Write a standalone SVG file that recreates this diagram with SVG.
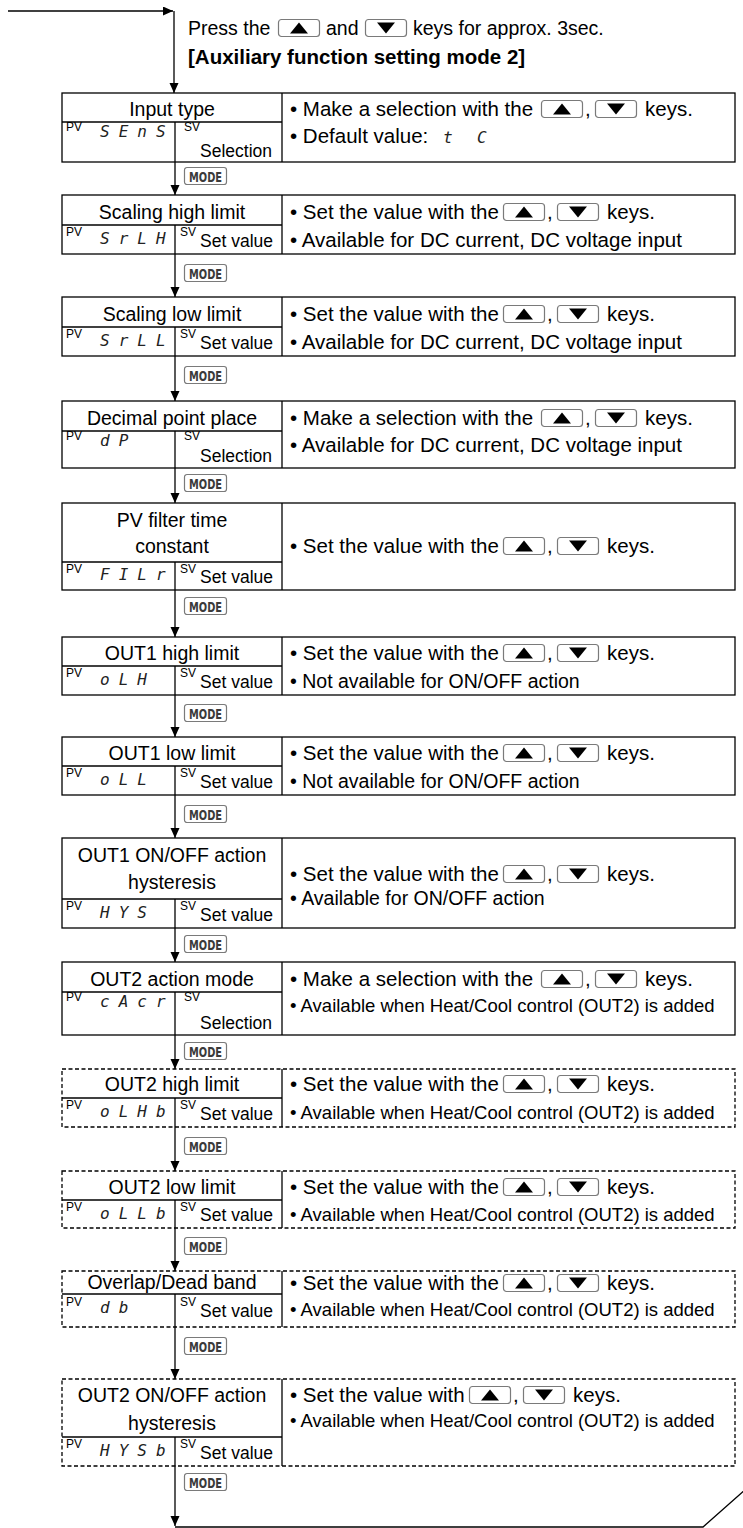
<svg xmlns="http://www.w3.org/2000/svg" width="743" height="1528" viewBox="0 0 743 1528">
<defs>
<style>
text{font-family:"Liberation Sans",Arial,sans-serif;fill:#000}
.t{font-size:19.5px;text-anchor:middle}
.p{font-size:19.5px}
.r{font-size:20.5px}
.rm{font-size:19.5px}
.rs{font-size:18.5px}
.h{font-size:20.5px;font-weight:bold}
.sup{font-size:12px}
.sv2{font-size:17.5px;text-anchor:end}
.seg{font-family:"DejaVu Sans Mono",monospace;font-style:italic;font-size:16px;letter-spacing:9px;fill:#222}
.ln{stroke:#000;stroke-width:1.3;fill:none}
.dl{stroke:#000;stroke-width:1.3;fill:none;stroke-dasharray:4 2.5}
.kb{fill:#fff;stroke:#7a7a7a;stroke-width:1.2}
.mk{font-family:"DejaVu Sans Condensed","DejaVu Sans",sans-serif;font-weight:bold;font-size:14px;fill:#3a3a3a;text-anchor:middle}
</style>
<marker id="ah" markerUnits="userSpaceOnUse" markerWidth="10" markerHeight="10" refX="10" refY="4.5" orient="auto"><path d="M0,0 L10,4.5 L0,9 z" fill="#000"/></marker>
<g id="kup"><rect class="kb" x="0.5" y="0.5" width="41" height="17" rx="3"/><path d="M21,3.5 L30,14.5 L12,14.5 z" fill="#000"/></g>
<g id="kdn"><rect class="kb" x="0.5" y="0.5" width="41" height="17" rx="3"/><path d="M12,3.5 L30,3.5 L21,14.5 z" fill="#000"/></g>
<rect id="kmode" class="kb" x="0.5" y="0.5" width="42" height="17" rx="2.5"/>
</defs>

<g id="header">
<text class="p" x="188" y="35">Press the</text>
<use href="#kup" x="278" y="19"/>
<text class="p" x="326" y="35">and</text>
<use href="#kdn" x="365" y="19"/>
<text class="p" x="413" y="35">keys for approx. 3sec.</text>
<text class="h" x="188" y="64">[Auxiliary function setting mode 2]</text>
</g>

<g id="connectors">
<line class="ln" x1="8" y1="11" x2="173" y2="11" marker-end="url(#ah)"/>
<line class="ln" x1="174" y1="11" x2="174" y2="93" marker-end="url(#ah)"/>
<line class="ln" x1="175" y1="162" x2="175" y2="195" marker-end="url(#ah)"/>
<line class="ln" x1="175" y1="254" x2="175" y2="297" marker-end="url(#ah)"/>
<line class="ln" x1="175" y1="356" x2="175" y2="401" marker-end="url(#ah)"/>
<line class="ln" x1="175" y1="468" x2="175" y2="503" marker-end="url(#ah)"/>
<line class="ln" x1="175" y1="590" x2="175" y2="637" marker-end="url(#ah)"/>
<line class="ln" x1="175" y1="695" x2="175" y2="737" marker-end="url(#ah)"/>
<line class="ln" x1="175" y1="795" x2="175" y2="838" marker-end="url(#ah)"/>
<line class="ln" x1="175" y1="928" x2="175" y2="962" marker-end="url(#ah)"/>
<line class="ln" x1="175" y1="1035" x2="175" y2="1069" marker-end="url(#ah)"/>
<line class="ln" x1="175" y1="1127" x2="175" y2="1171" marker-end="url(#ah)"/>
<line class="ln" x1="175" y1="1228" x2="175" y2="1271" marker-end="url(#ah)"/>
<line class="ln" x1="175" y1="1327" x2="175" y2="1379" marker-end="url(#ah)"/>
<line class="ln" x1="175" y1="1466" x2="175" y2="1526" marker-end="url(#ah)"/>
<polyline class="ln" points="175,1527 703,1527 746,1489"/>
<g id="mode-keys">
<use href="#kmode" x="184" y="167"/><text class="mk" x="205.5" y="181.5" textLength="33" lengthAdjust="spacingAndGlyphs">MODE</text>
<use href="#kmode" x="184" y="264"/><text class="mk" x="205.5" y="278.5" textLength="33" lengthAdjust="spacingAndGlyphs">MODE</text>
<use href="#kmode" x="184" y="366"/><text class="mk" x="205.5" y="380.5" textLength="33" lengthAdjust="spacingAndGlyphs">MODE</text>
<use href="#kmode" x="184" y="474"/><text class="mk" x="205.5" y="488.5" textLength="33" lengthAdjust="spacingAndGlyphs">MODE</text>
<use href="#kmode" x="184" y="597"/><text class="mk" x="205.5" y="611.5" textLength="33" lengthAdjust="spacingAndGlyphs">MODE</text>
<use href="#kmode" x="184" y="704"/><text class="mk" x="205.5" y="718.5" textLength="33" lengthAdjust="spacingAndGlyphs">MODE</text>
<use href="#kmode" x="184" y="805"/><text class="mk" x="205.5" y="819.5" textLength="33" lengthAdjust="spacingAndGlyphs">MODE</text>
<use href="#kmode" x="184" y="935"/><text class="mk" x="205.5" y="949.5" textLength="33" lengthAdjust="spacingAndGlyphs">MODE</text>
<use href="#kmode" x="184" y="1042"/><text class="mk" x="205.5" y="1056.5" textLength="33" lengthAdjust="spacingAndGlyphs">MODE</text>
<use href="#kmode" x="184" y="1137"/><text class="mk" x="205.5" y="1151.5" textLength="33" lengthAdjust="spacingAndGlyphs">MODE</text>
<use href="#kmode" x="184" y="1237"/><text class="mk" x="205.5" y="1251.5" textLength="33" lengthAdjust="spacingAndGlyphs">MODE</text>
<use href="#kmode" x="184" y="1337"/><text class="mk" x="205.5" y="1351.5" textLength="33" lengthAdjust="spacingAndGlyphs">MODE</text>
<use href="#kmode" x="184" y="1473"/><text class="mk" x="205.5" y="1487.5" textLength="33" lengthAdjust="spacingAndGlyphs">MODE</text>
</g>
</g>

<g id="n1-input-type">
<rect class="ln" x="62" y="93" width="673" height="69"/>
<line class="ln" x1="282" y1="93" x2="282" y2="162"/>
<line class="ln" x1="62" y1="122" x2="282" y2="122"/>
<line class="ln" x1="175" y1="122" x2="175" y2="162"/>
<text class="t" x="172" y="116">Input type</text>
<text class="sup" x="66" y="131">PV</text>
<text class="seg" x="100" y="137">SEnS</text>
<text class="sup" x="184" y="131">SV</text>
<text class="sv2" x="272" y="157">Selection</text>
<text class="r" x="290" y="116">• Make a selection with the</text>
<use href="#kup" x="541" y="100"/><text class="r" x="585" y="116">,</text><use href="#kdn" x="595" y="100"/>
<text class="r" x="645" y="116">keys.</text>
<text class="r" x="290" y="143">• Default value:</text>
<text class="seg" x="443" y="143">t</text>
<text class="seg" x="477" y="143">C</text>
</g>

<g id="n2-scaling-high">
<rect class="ln" x="62" y="195" width="673" height="59"/>
<line class="ln" x1="282" y1="195" x2="282" y2="254"/>
<line class="ln" x1="62" y1="225" x2="282" y2="225"/>
<line class="ln" x1="175" y1="225" x2="175" y2="254"/>
<text class="t" x="172" y="219">Scaling high limit</text>
<text class="sup" x="66" y="236">PV</text>
<text class="seg" x="100" y="244">SrLH</text>
<text class="sup" x="180" y="236">SV</text>
<text class="sv2" x="273" y="247">Set value</text>
<text class="r" x="290" y="219">• Set the value with the</text>
<use href="#kup" x="503" y="203"/><text class="r" x="547" y="219">,</text><use href="#kdn" x="557" y="203"/>
<text class="r" x="607" y="219">keys.</text>
<text class="r" x="290" y="247">• Available for DC current, DC voltage input</text>
</g>

<g id="n3-scaling-low">
<rect class="ln" x="62" y="297" width="673" height="59"/>
<line class="ln" x1="282" y1="297" x2="282" y2="356"/>
<line class="ln" x1="62" y1="327" x2="282" y2="327"/>
<line class="ln" x1="175" y1="327" x2="175" y2="356"/>
<text class="t" x="172" y="321">Scaling low limit</text>
<text class="sup" x="66" y="338">PV</text>
<text class="seg" x="100" y="346">SrLL</text>
<text class="sup" x="180" y="338">SV</text>
<text class="sv2" x="273" y="349">Set value</text>
<text class="r" x="290" y="321">• Set the value with the</text>
<use href="#kup" x="503" y="305"/><text class="r" x="547" y="321">,</text><use href="#kdn" x="557" y="305"/>
<text class="r" x="607" y="321">keys.</text>
<text class="r" x="290" y="349">• Available for DC current, DC voltage input</text>
</g>

<g id="n4-decimal-point">
<rect class="ln" x="62" y="401" width="673" height="67"/>
<line class="ln" x1="282" y1="401" x2="282" y2="468"/>
<line class="ln" x1="62" y1="431" x2="282" y2="431"/>
<line class="ln" x1="175" y1="431" x2="175" y2="468"/>
<text class="t" x="172" y="425">Decimal point place</text>
<text class="sup" x="66" y="440">PV</text>
<text class="seg" x="100" y="446">dP</text>
<text class="sup" x="184" y="440">SV</text>
<text class="sv2" x="272" y="462">Selection</text>
<text class="r" x="290" y="425">• Make a selection with the</text>
<use href="#kup" x="541" y="409"/><text class="r" x="585" y="425">,</text><use href="#kdn" x="595" y="409"/>
<text class="r" x="645" y="425">keys.</text>
<text class="r" x="290" y="452">• Available for DC current, DC voltage input</text>
</g>

<g id="n5-pv-filter">
<rect class="ln" x="62" y="503" width="673" height="87"/>
<line class="ln" x1="282" y1="503" x2="282" y2="590"/>
<line class="ln" x1="62" y1="562" x2="282" y2="562"/>
<line class="ln" x1="175" y1="562" x2="175" y2="590"/>
<text class="t" x="172" y="527">PV filter time</text>
<text class="t" x="172" y="553">constant</text>
<text class="sup" x="66" y="573">PV</text>
<text class="seg" x="100" y="580">FILr</text>
<text class="sup" x="180" y="573">SV</text>
<text class="sv2" x="273" y="583">Set value</text>
<text class="r" x="290" y="553">• Set the value with the</text>
<use href="#kup" x="503" y="537"/><text class="r" x="547" y="553">,</text><use href="#kdn" x="557" y="537"/>
<text class="r" x="607" y="553">keys.</text>
</g>

<g id="n6-out1-high">
<rect class="ln" x="62" y="637" width="673" height="58"/>
<line class="ln" x1="282" y1="637" x2="282" y2="695"/>
<line class="ln" x1="62" y1="666" x2="282" y2="666"/>
<line class="ln" x1="175" y1="666" x2="175" y2="695"/>
<text class="t" x="172" y="660">OUT1 high limit</text>
<text class="sup" x="66" y="677">PV</text>
<text class="seg" x="100" y="685">oLH</text>
<text class="sup" x="180" y="677">SV</text>
<text class="sv2" x="273" y="688">Set value</text>
<text class="r" x="290" y="660">• Set the value with the</text>
<use href="#kup" x="503" y="644"/><text class="r" x="547" y="660">,</text><use href="#kdn" x="557" y="644"/>
<text class="r" x="607" y="660">keys.</text>
<text class="rm" x="290" y="688">• Not available for ON/OFF action</text>
</g>

<g id="n7-out1-low">
<rect class="ln" x="62" y="737" width="673" height="58"/>
<line class="ln" x1="282" y1="737" x2="282" y2="795"/>
<line class="ln" x1="62" y1="766" x2="282" y2="766"/>
<line class="ln" x1="175" y1="766" x2="175" y2="795"/>
<text class="t" x="172" y="760">OUT1 low limit</text>
<text class="sup" x="66" y="777">PV</text>
<text class="seg" x="100" y="785">oLL</text>
<text class="sup" x="180" y="777">SV</text>
<text class="sv2" x="273" y="788">Set value</text>
<text class="r" x="290" y="760">• Set the value with the</text>
<use href="#kup" x="503" y="744"/><text class="r" x="547" y="760">,</text><use href="#kdn" x="557" y="744"/>
<text class="r" x="607" y="760">keys.</text>
<text class="rm" x="290" y="788">• Not available for ON/OFF action</text>
</g>

<g id="n8-out1-hysteresis">
<rect class="ln" x="62" y="838" width="673" height="90"/>
<line class="ln" x1="282" y1="838" x2="282" y2="928"/>
<line class="ln" x1="62" y1="899" x2="282" y2="899"/>
<line class="ln" x1="175" y1="899" x2="175" y2="928"/>
<text class="t" x="172" y="862">OUT1 ON/OFF action</text>
<text class="t" x="172" y="889">hysteresis</text>
<text class="sup" x="66" y="910">PV</text>
<text class="seg" x="100" y="918">HYS</text>
<text class="sup" x="180" y="910">SV</text>
<text class="sv2" x="273" y="921">Set value</text>
<text class="r" x="290" y="881">• Set the value with the</text>
<use href="#kup" x="503" y="865"/><text class="r" x="547" y="881">,</text><use href="#kdn" x="557" y="865"/>
<text class="r" x="607" y="881">keys.</text>
<text class="rm" x="290" y="905">• Available for ON/OFF action</text>
</g>

<g id="n9-out2-mode">
<rect class="ln" x="62" y="962" width="673" height="73"/>
<line class="ln" x1="282" y1="962" x2="282" y2="1035"/>
<line class="ln" x1="62" y1="992" x2="282" y2="992"/>
<line class="ln" x1="175" y1="992" x2="175" y2="1035"/>
<text class="t" x="172" y="986">OUT2 action mode</text>
<text class="sup" x="66" y="1001">PV</text>
<text class="seg" x="100" y="1007">cAcr</text>
<text class="sup" x="184" y="1001">SV</text>
<text class="sv2" x="272" y="1029">Selection</text>
<text class="r" x="290" y="986">• Make a selection with the</text>
<use href="#kup" x="541" y="970"/><text class="r" x="585" y="986">,</text><use href="#kdn" x="595" y="970"/>
<text class="r" x="645" y="986">keys.</text>
<text class="rs" x="290" y="1012">• Available when Heat/Cool control (OUT2) is added</text>
</g>

<g id="n10-out2-high">
<rect class="dl" x="62" y="1069" width="673" height="58"/>
<line class="ln" x1="282" y1="1069" x2="282" y2="1127"/>
<line class="ln" x1="62" y1="1098" x2="282" y2="1098"/>
<line class="ln" x1="175" y1="1098" x2="175" y2="1127"/>
<text class="t" x="172" y="1091">OUT2 high limit</text>
<text class="sup" x="66" y="1109">PV</text>
<text class="seg" x="100" y="1117">oLHb</text>
<text class="sup" x="180" y="1109">SV</text>
<text class="sv2" x="273" y="1120">Set value</text>
<text class="r" x="290" y="1091">• Set the value with the</text>
<use href="#kup" x="503" y="1075"/><text class="r" x="547" y="1091">,</text><use href="#kdn" x="557" y="1075"/>
<text class="r" x="607" y="1091">keys.</text>
<text class="rs" x="290" y="1119">• Available when Heat/Cool control (OUT2) is added</text>
</g>

<g id="n11-out2-low">
<rect class="dl" x="62" y="1171" width="673" height="57"/>
<line class="ln" x1="282" y1="1171" x2="282" y2="1228"/>
<line class="ln" x1="62" y1="1200" x2="282" y2="1200"/>
<line class="ln" x1="175" y1="1200" x2="175" y2="1228"/>
<text class="t" x="172" y="1194">OUT2 low limit</text>
<text class="sup" x="66" y="1211">PV</text>
<text class="seg" x="100" y="1219">oLLb</text>
<text class="sup" x="180" y="1211">SV</text>
<text class="sv2" x="273" y="1221">Set value</text>
<text class="r" x="290" y="1194">• Set the value with the</text>
<use href="#kup" x="503" y="1178"/><text class="r" x="547" y="1194">,</text><use href="#kdn" x="557" y="1178"/>
<text class="r" x="607" y="1194">keys.</text>
<text class="rs" x="290" y="1221">• Available when Heat/Cool control (OUT2) is added</text>
</g>

<g id="n12-overlap-dead-band">
<rect class="dl" x="62" y="1271" width="673" height="56"/>
<line class="ln" x1="282" y1="1271" x2="282" y2="1327"/>
<line class="ln" x1="62" y1="1294" x2="282" y2="1294"/>
<line class="ln" x1="175" y1="1294" x2="175" y2="1327"/>
<text class="t" x="172" y="1289">Overlap/Dead band</text>
<text class="sup" x="66" y="1306">PV</text>
<text class="seg" x="100" y="1313">db</text>
<text class="sup" x="180" y="1306">SV</text>
<text class="sv2" x="273" y="1317">Set value</text>
<text class="r" x="290" y="1290">• Set the value with the</text>
<use href="#kup" x="503" y="1274"/><text class="r" x="547" y="1290">,</text><use href="#kdn" x="557" y="1274"/>
<text class="r" x="607" y="1290">keys.</text>
<text class="rs" x="290" y="1316">• Available when Heat/Cool control (OUT2) is added</text>
</g>

<g id="n13-out2-hysteresis">
<rect class="dl" x="62" y="1379" width="673" height="87"/>
<line class="ln" x1="282" y1="1379" x2="282" y2="1466"/>
<line class="ln" x1="62" y1="1437" x2="282" y2="1437"/>
<line class="ln" x1="175" y1="1437" x2="175" y2="1466"/>
<text class="t" x="172" y="1402">OUT2 ON/OFF action</text>
<text class="t" x="172" y="1430">hysteresis</text>
<text class="sup" x="66" y="1448">PV</text>
<text class="seg" x="100" y="1456">HYSb</text>
<text class="sup" x="180" y="1448">SV</text>
<text class="sv2" x="273" y="1459">Set value</text>
<text class="r" x="290" y="1402">• Set the value with</text>
<use href="#kup" x="469" y="1386"/><text class="r" x="513" y="1402">,</text><use href="#kdn" x="523" y="1386"/>
<text class="r" x="573" y="1402">keys.</text>
<text class="rs" x="290" y="1427">• Available when Heat/Cool control (OUT2) is added</text>
</g>
</svg>
